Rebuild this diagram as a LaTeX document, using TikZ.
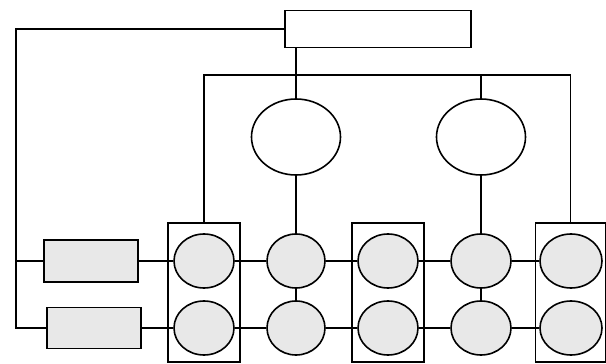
\documentclass[tikz,border=0pt]{standalone}
\usetikzlibrary{shapes.geometric}
\begin{document}
\begin{tikzpicture}[x=1pt,y=-1pt,
  wire/.style={line width=1.6pt, line join=miter},
  unit/.style={draw, line width=1.6pt, ellipse, fill=gray!18, inner sep=0pt,
               minimum width=60pt, minimum height=54pt},
  bigunit/.style={draw, line width=1.6pt, ellipse, fill=white, inner sep=0pt,
                  minimum width=89pt, minimum height=76pt},
  block/.style={draw, line width=1.6pt, fill=gray!18, inner sep=0pt,
                minimum width=94pt, minimum height=42pt},
  frame/.style={draw, line width=1.6pt, inner sep=0pt,
                minimum width=72pt, minimum height=139pt},
  ctlbox/.style={draw, line width=1.6pt, fill=white, inner sep=0pt,
                 minimum width=186pt, minimum height=37pt},
]
\useasboundingbox (0,0) rectangle (606,364);

% frames holding the paired units
\node[frame] (f1) at (204,292.5) {};
\node[frame] (f2) at (388,292.5) {};
\node[frame, minimum width=70pt] (f3) at (570.5,292.5) {};

% top controller and the two upper units
\node[ctlbox] (ctl) at (378,29) {};
\node[bigunit] (t1) at (296,137) {};
\node[bigunit] (t2) at (481,137) {};

% left blocks
\node[block] (r1) at (91,261) {};
\node[block, minimum height=41pt] (r2) at (94,328) {};

% row units
\node[unit] (a1) at (204,261) {};
\node[unit] (a2) at (204,328) {};
\node[unit, minimum width=58pt] (b1) at (296,261) {};
\node[unit, minimum width=58pt] (b2) at (296,328) {};
\node[unit] (c1) at (388,261) {};
\node[unit] (c2) at (388,328) {};
\node[unit] (d1) at (481,261) {};
\node[unit] (d2) at (481,328) {};
\node[unit, minimum width=62pt] (e1) at (571,261) {};
\node[unit, minimum width=62pt] (e2) at (571,328) {};

\coordinate (corner) at (16,328);
\coordinate (bar) at (0,75);

% controller feed on the left
\draw[wire] (ctl.west) -| (corner) -- (r2);
\draw[wire] (corner |- r1) -- (r1);

% controller to the first upper unit
\draw[wire] (t1.north |- ctl.south) -- (t1);

% distribution bar
\draw[wire] (f1.north) -- (f1.north |- bar) -| (f3.north);
\draw[wire] (t2.north |- bar) -- (t2);

% verticals through the middle columns
\draw[wire] (t1) -- (b1);
\draw[wire] (b1) -- (b2);
\draw[wire] (t2) -- (d1);
\draw[wire] (d1) -- (d2);

% rows
\draw[wire] (r1) -- (a1);
\draw[wire] (a1) -- (b1);
\draw[wire] (b1) -- (c1);
\draw[wire] (c1) -- (d1);
\draw[wire] (d1) -- (e1);
\draw[wire] (r2) -- (a2);
\draw[wire] (a2) -- (b2);
\draw[wire] (b2) -- (c2);
\draw[wire] (c2) -- (d2);
\draw[wire] (d2) -- (e2);
\end{tikzpicture}
\end{document}
